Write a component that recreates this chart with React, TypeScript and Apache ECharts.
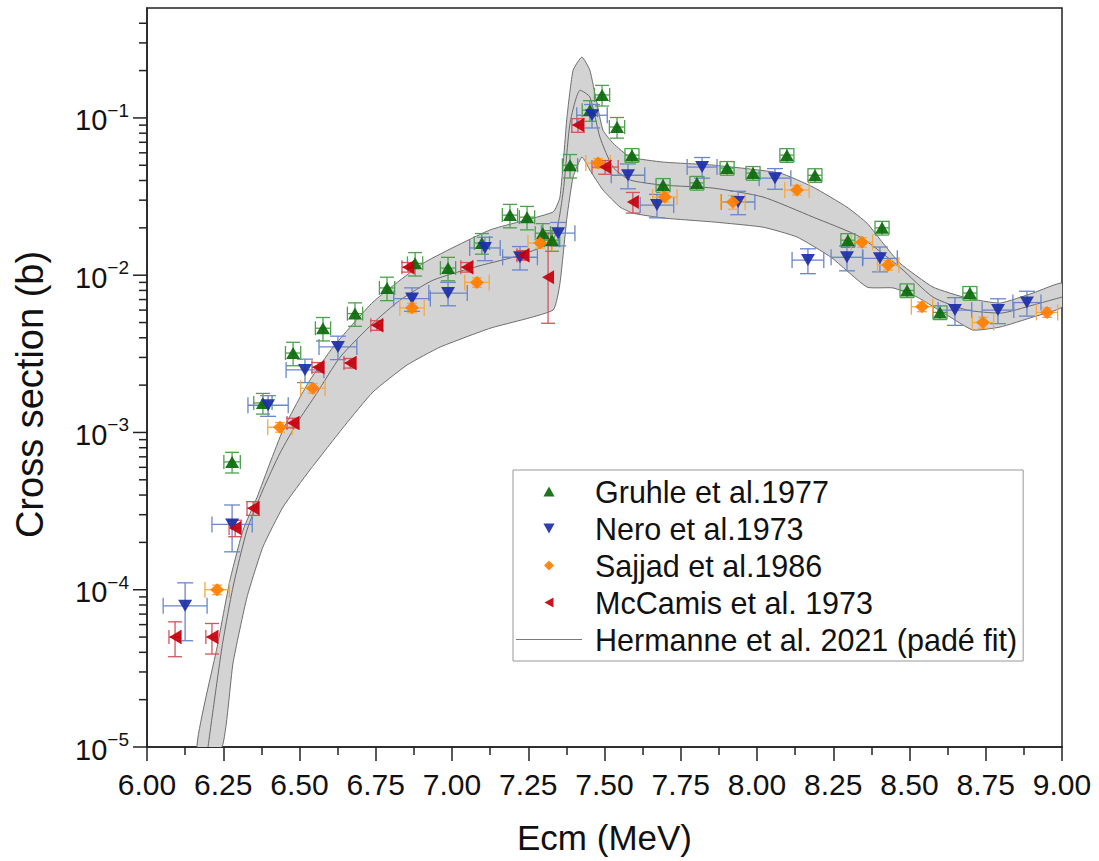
import React, { useEffect, useRef } from 'react';
import * as echarts from 'echarts';

const FONT = '"Liberation Sans", Arial, Helvetica, sans-serif';

// x-axis tick setup (MeV)
const X_MIN = 6.0;
const X_MAX = 9.0;
const X_STEP = 0.25;
// y-axis (barn, log)
const Y_MIN = 1e-5;
const Y_MAX = 0.5;
const yMajorTicks = [1e-5, 1e-4, 1e-3, 1e-2, 1e-1];
const yMinorMultipliers = [2, 3, 4, 5, 6, 7, 8, 9];

// Data points: [Ecm, sigma, dE, relErrDown, relErrUp]
const gruhle: number[][] = [
  [6.279, 6.5e-4, 0.027, 0.15, 0.15],
  [6.380, 1.54e-3, 0.03, 0.15, 0.15],
  [6.479, 3.2e-3, 0.025, 0.17, 0.17],
  [6.577, 4.6e-3, 0.025, 0.17, 0.17],
  [6.682, 5.7e-3, 0.025, 0.17, 0.17],
  [6.787, 8.3e-3, 0.025, 0.17, 0.17],
  [6.879, 1.19e-2, 0.025, 0.17, 0.17],
  [6.987, 1.11e-2, 0.025, 0.17, 0.17],
  [7.098, 1.6e-2, 0.025, 0.15, 0.15],
  [7.190, 2.41e-2, 0.025, 0.17, 0.17],
  [7.246, 2.34e-2, 0.025, 0.17, 0.17],
  [7.298, 1.85e-2, 0.025, 0.15, 0.15],
  [7.328, 1.67e-2, 0.025, 0.15, 0.15],
  [7.387, 5.0e-2, 0.025, 0.17, 0.17],
  [7.452, 0.112, 0.025, 0.15, 0.15],
  [7.492, 0.14, 0.025, 0.15, 0.15],
  [7.541, 0.0875, 0.025, 0.15, 0.15],
  [7.590, 0.058, 0.023, 0.1, 0.1],
  [7.692, 0.0374, 0.023, 0.1, 0.1],
  [7.803, 0.0386, 0.023, 0.1, 0.1],
  [7.902, 0.048, 0.023, 0.1, 0.1],
  [7.987, 0.0446, 0.023, 0.1, 0.1],
  [8.098, 0.058, 0.023, 0.1, 0.1],
  [8.190, 0.0432, 0.023, 0.1, 0.1],
  [8.298, 0.0167, 0.023, 0.1, 0.1],
  [8.410, 0.02, 0.023, 0.1, 0.1],
  [8.492, 8.0e-3, 0.023, 0.1, 0.1],
  [8.600, 5.8e-3, 0.023, 0.1, 0.1],
  [8.698, 7.7e-3, 0.023, 0.1, 0.1],
];

const nero: number[][] = [
  [6.125, 7.9e-5, 0.072, 0.4, 0.4],
  [6.279, 2.6e-4, 0.066, 0.33, 0.33],
  [6.397, 1.49e-3, 0.066, 0.15, 0.15],
  [6.518, 2.5e-3, 0.062, 0.17, 0.17],
  [6.626, 3.5e-3, 0.062, 0.17, 0.17],
  [6.869, 7.1e-3, 0.06, 0.17, 0.17],
  [6.987, 7.7e-3, 0.063, 0.17, 0.17],
  [7.108, 1.49e-2, 0.05, 0.17, 0.17],
  [7.223, 1.3e-2, 0.057, 0.17, 0.17],
  [7.348, 1.85e-2, 0.055, 0.17, 0.17],
  [7.459, 0.104, 0.05, 0.17, 0.17],
  [7.577, 0.0432, 0.055, 0.18, 0.18],
  [7.672, 0.0279, 0.055, 0.17, 0.17],
  [7.820, 0.0487, 0.049, 0.15, 0.15],
  [7.938, 0.0292, 0.055, 0.17, 0.17],
  [8.059, 0.0414, 0.052, 0.15, 0.15],
  [8.167, 0.01247, 0.052, 0.18, 0.18],
  [8.295, 0.013, 0.052, 0.18, 0.18],
  [8.403, 0.0128, 0.057, 0.18, 0.18],
  [8.649, 6.0e-3, 0.055, 0.2, 0.2],
  [8.790, 6.0e-3, 0.052, 0.18, 0.18],
  [8.885, 6.7e-3, 0.046, 0.18, 0.18],
];

const sajjad: number[][] = [
  [6.230, 1.0e-4, 0.04, 0.07, 0.07],
  [6.436, 1.08e-3, 0.04, 0.07, 0.07],
  [6.544, 1.91e-3, 0.04, 0.07, 0.07],
  [6.869, 6.2e-3, 0.04, 0.07, 0.07],
  [7.082, 9.0e-3, 0.04, 0.07, 0.07],
  [7.289, 1.6e-2, 0.04, 0.07, 0.07],
  [7.479, 0.0516, 0.04, 0.07, 0.07],
  [7.698, 0.0314, 0.04, 0.07, 0.07],
  [7.921, 0.0292, 0.04, 0.1, 0.1],
  [8.131, 0.0348, 0.04, 0.07, 0.07],
  [8.344, 0.0162, 0.035, 0.07, 0.07],
  [8.430, 0.0116, 0.035, 0.07, 0.07],
  [8.541, 6.3e-3, 0.035, 0.07, 0.07],
  [8.741, 5.0e-3, 0.035, 0.08, 0.08],
  [8.951, 5.8e-3, 0.035, 0.07, 0.07],
];

const mccamis: number[][] = [
  [6.092, 5.0e-5, 0.02, 0.25, 0.25],
  [6.213, 5.0e-5, 0.02, 0.22, 0.22],
  [6.289, 2.47e-4, 0.02, 0.12, 0.12],
  [6.348, 3.3e-4, 0.02, 0.1, 0.1],
  [6.479, 1.15e-3, 0.02, 0.07, 0.07],
  [6.561, 2.6e-3, 0.02, 0.07, 0.07],
  [6.666, 2.76e-3, 0.02, 0.07, 0.07],
  [6.754, 4.8e-3, 0.02, 0.07, 0.07],
  [6.856, 1.125e-2, 0.02, 0.07, 0.07],
  [7.049, 1.125e-2, 0.02, 0.07, 0.07],
  [7.233, 1.34e-2, 0.02, 0.07, 0.07],
  [7.315, 9.7e-3, 0.0, 0.49, 0.9],
  [7.413, 0.09, 0.02, 0.1, 0.1],
  [7.502, 0.0487, 0.043, 0.1, 0.1],
  [7.593, 0.0292, 0.0, 0.15, 0.15],
];

// Padé fit and its uncertainty band: [Ecm, sigma]
const fitCurve: number[][] = [
  [6.200, 1.0e-5], [6.246, 4.33e-5], [6.282, 1.04e-4], [6.328, 2.40e-4],
  [6.380, 4.31e-4], [6.436, 7.39e-4], [6.492, 1.15e-3], [6.557, 1.78e-3],
  [6.633, 3.01e-3], [6.741, 4.95e-3], [6.830, 6.95e-3], [6.938, 9.3e-3],
  [7.092, 1.15e-2], [7.223, 1.34e-2], [7.331, 1.67e-2], [7.364, 3.33e-2],
  [7.387, 0.0927], [7.420, 0.150], [7.452, 0.136], [7.485, 0.0755],
  [7.528, 0.0486], [7.584, 0.0403], [7.692, 0.0374], [7.856, 0.0358],
  [8.020, 0.0314], [8.184, 0.0234], [8.338, 0.0175], [8.469, 0.0112],
  [8.577, 7.26e-3], [8.689, 6.0e-3], [8.797, 5.74e-3], [8.905, 6.46e-3],
  [9.0, 7.26e-3],
];

const bandUpper: number[][] = [
  [6.164, 1.0e-5], [6.230, 4.33e-5], [6.272, 1.15e-4], [6.315, 2.40e-4],
  [6.361, 3.88e-4], [6.403, 6.38e-4], [6.446, 1.04e-3], [6.502, 1.68e-3],
  [6.534, 2.15e-3], [6.610, 3.49e-3], [6.741, 6.75e-3], [6.905, 1.19e-2],
  [7.125, 1.94e-2], [7.331, 2.52e-2], [7.354, 3.14e-2], [7.377, 0.101],
  [7.397, 0.201], [7.426, 0.244], [7.452, 0.201], [7.475, 0.124],
  [7.495, 0.0836], [7.528, 0.0691], [7.584, 0.0564], [7.692, 0.0524],
  [7.856, 0.0501], [8.075, 0.0446], [8.184, 0.0363], [8.295, 0.0271],
  [8.361, 0.0214], [8.413, 0.016], [8.469, 0.0119], [8.577, 8.4e-3],
  [8.689, 7.15e-3], [8.797, 6.65e-3], [8.905, 7.7e-3], [9.0, 8.9e-3],
];

const bandLower: number[][] = [
  [6.246, 1.0e-5], [6.282, 3.42e-5], [6.328, 8.99e-5], [6.380, 1.87e-4],
  [6.446, 3.36e-4], [6.534, 5.77e-4], [6.649, 1.11e-3], [6.741, 1.81e-3],
  [6.852, 2.68e-3], [6.961, 3.49e-3], [7.125, 4.6e-3], [7.331, 6.0e-3],
  [7.354, 8.9e-3], [7.377, 0.0234], [7.397, 0.042], [7.426, 0.0564],
  [7.452, 0.0466], [7.495, 0.0348], [7.551, 0.0271], [7.593, 0.0248],
  [7.692, 0.0231], [7.856, 0.0218], [8.020, 0.0202], [8.131, 0.0175],
  [8.243, 0.013], [8.361, 8.4e-3], [8.446, 8.3e-3], [8.525, 7.26e-3],
  [8.633, 5.42e-3], [8.708, 4.48e-3], [8.797, 4.68e-3], [8.905, 5.42e-3],
  [9.0, 6.26e-3],
];

const NAMES = {
  gruhle: 'Gruhle et al.1977',
  nero: 'Nero et al.1973',
  sajjad: 'Sajjad et al.1986',
  mccamis: 'McCamis et al. 1973',
  fit: 'Hermanne et al. 2021 (padé fit)',
};

const COLORS = {
  gruhle: '#0a6a0a', gruhleErr: '#4f9f4f',
  nero: '#1c2ea8', neroErr: '#6a86c8',
  sajjad: '#ff7f00', sajjadErr: '#f5a742',
  mccamis: '#c4000c', mccamisErr: '#d4545c',
  fit: '#7a7a7a',
};

function errRender(color: string, capV: number, capH: number) {
  return (_params: any, api: any) => {
    const e = api.value(0);
    const s = api.value(1);
    const de = api.value(2);
    const rd = api.value(3);
    const ru = api.value(4);
    const c = api.coord([e, s]);
    const top = api.coord([e, s * (1 + ru)]);
    const bot = api.coord([e, s * (1 - rd)]);
    const style = { stroke: color, lineWidth: 1.3, fill: null };
    const children: any[] = [
      { type: 'line', shape: { x1: c[0], y1: top[1], x2: c[0], y2: bot[1] }, style },
      { type: 'line', shape: { x1: c[0] - capV, y1: top[1], x2: c[0] + capV, y2: top[1] }, style },
      { type: 'line', shape: { x1: c[0] - capV, y1: bot[1], x2: c[0] + capV, y2: bot[1] }, style },
    ];
    if (de > 0) {
      const l = api.coord([e - de, s]);
      const r = api.coord([e + de, s]);
      children.push(
        { type: 'line', shape: { x1: l[0], y1: c[1], x2: r[0], y2: c[1] }, style },
        { type: 'line', shape: { x1: l[0], y1: c[1] - capH, x2: l[0], y2: c[1] + capH }, style },
        { type: 'line', shape: { x1: r[0], y1: c[1] - capH, x2: r[0], y2: c[1] + capH }, style },
      );
    }
    return { type: 'group', children };
  };
}

export default function App() {
  const ref = useRef<HTMLDivElement>(null);

  useEffect(() => {
    if (!ref.current) return;
    const chart = echarts.init(ref.current, undefined, { renderer: 'svg' });

    const yTickData: number[][] = [];
    for (const m of yMajorTicks) {
      yTickData.push([X_MIN, m, 1]);
      for (const k of yMinorMultipliers) {
        const v = m * k;
        if (v < Y_MAX * 0.999) yTickData.push([X_MIN, v, 0]);
      }
    }

    const errSeries = (name: string, data: number[][], color: string, capV: number, capH: number) => ({
      type: 'custom',
      name,
      data,
      z: 3,
      silent: true,
      clip: true,
      encode: { x: 0, y: 1 },
      renderItem: errRender(color, capV, capH),
    });

    const markerSeries = (name: string, data: number[][], color: string, symbol: string, rotate: number, size: number[]) => ({
      type: 'scatter',
      name,
      data: data.map((d) => [d[0], d[1]]),
      symbol,
      symbolRotate: rotate,
      symbolSize: size,
      z: 4,
      itemStyle: { color, opacity: 0.92 },
    });

    const option: any = {
      animation: false,
      backgroundColor: '#ffffff',
      grid: {
        left: 147, right: 37, top: 8, bottom: 114,
        show: true, borderColor: '#222', borderWidth: 1.5, backgroundColor: 'transparent',
      },
      xAxis: {
        type: 'value',
        min: X_MIN, max: X_MAX, interval: X_STEP,
        name: 'Ecm (MeV)',
        nameLocation: 'middle',
        nameGap: 73,
        nameTextStyle: { fontFamily: FONT, fontSize: 35, color: '#111' },
        axisLine: { show: true, lineStyle: { color: '#222', width: 1.5 } },
        axisTick: { show: true, inside: false, length: 14, lineStyle: { color: '#222', width: 1.5 } },
        minorTick: { show: true, splitNumber: 2, length: 8, lineStyle: { color: '#222', width: 1.5 } },
        splitLine: { show: false },
        axisLabel: {
          fontFamily: FONT, fontSize: 30, color: '#111', margin: 22,
          formatter: (v: number) => v.toFixed(2),
        },
      },
      yAxis: {
        type: 'log', logBase: 10,
        min: Y_MIN, max: Y_MAX,
        name: 'Cross section (b)',
        nameLocation: 'middle',
        nameGap: 98,
        nameTextStyle: { fontFamily: FONT, fontSize: 38, color: '#111', padding: [0, 34, 0, 0] },
        axisLine: { show: true, lineStyle: { color: '#222', width: 1.5 } },
        axisTick: { show: false },
        splitLine: { show: false },
        axisLabel: {
          margin: 18,
          showMaxLabel: false,
          formatter: (v: number) => {
            const lg = Math.log10(v);
            const e = Math.round(lg);
            if (Math.abs(lg - e) > 1e-6) return '';
            return `{b|10}{s|−${-e}}`;
          },
          rich: {
            b: { fontFamily: FONT, fontSize: 29, color: '#111', lineHeight: 34, verticalAlign: 'bottom' },
            s: { fontFamily: FONT, fontSize: 19, color: '#111', lineHeight: 20, verticalAlign: 'top' },
          },
        },
      },
      legend: {
        orient: 'vertical',
        left: 513, top: 470,
        padding: [6, 6, 6, 3],
        itemGap: 6,
        itemWidth: 66, itemHeight: 10,
        backgroundColor: '#fff',
        borderColor: '#999', borderWidth: 1, borderRadius: 0,
        textStyle: { fontFamily: FONT, fontSize: 30.5, color: '#111', lineHeight: 31, padding: [0, 0, 0, 8] },
        data: [
          { name: NAMES.gruhle, icon: 'path://M5 0 L10 9 L0 9 Z' },
          { name: NAMES.nero, icon: 'path://M0 0 L10 0 L5 9 Z' },
          { name: NAMES.sajjad, icon: 'path://M5 0 L10 5 L5 10 L0 5 Z' },
          { name: NAMES.mccamis, icon: 'path://M0 5 L9 0 L9 10 Z' },
          { name: NAMES.fit, icon: 'path://M0 0 L64 0 L64 1 L0 1 Z' },
        ],
      },
      series: [
        {
          type: 'custom',
          name: 'band',
          data: [[X_MIN, Y_MIN]],
          z: 1,
          silent: true,
          clip: true,
          encode: { x: 0, y: 1 },
          renderItem: (_p: any, api: any) => {
            const pts: number[][] = [];
            for (const d of bandUpper) pts.push(api.coord([d[0], d[1]]));
            for (let i = bandLower.length - 1; i >= 0; i--) pts.push(api.coord([bandLower[i][0], bandLower[i][1]]));
            return {
              type: 'polygon',
              shape: { points: pts, smooth: 0.15 },
              style: { fill: '#d3d3d3', stroke: '#6e6e6e', lineWidth: 1 },
            };
          },
        },
        {
          type: 'line',
          name: NAMES.fit,
          data: fitCurve,
          showSymbol: false,
          symbol: 'none',
          smooth: 0.2,
          z: 2,
          silent: true,
          itemStyle: { color: COLORS.fit },
          lineStyle: { color: '#6a6a6a', width: 1 },
        },
        errSeries('gruhle-err', gruhle, COLORS.gruhleErr, 7, 7),
        errSeries('nero-err', nero, COLORS.neroErr, 8, 8),
        errSeries('sajjad-err', sajjad, COLORS.sajjadErr, 5, 8),
        errSeries('mccamis-err', mccamis, COLORS.mccamisErr, 7, 7),
        markerSeries(NAMES.gruhle, gruhle, COLORS.gruhle, 'triangle', 0, [14, 12]),
        markerSeries(NAMES.nero, nero, COLORS.nero, 'triangle', 180, [14, 12]),
        markerSeries(NAMES.sajjad, sajjad, COLORS.sajjad, 'diamond', 0, [14, 13]),
        markerSeries(NAMES.mccamis, mccamis, COLORS.mccamis, 'triangle', 90, [14, 12]),
        {
          type: 'custom',
          name: 'y-ticks',
          data: yTickData,
          z: 5,
          silent: true,
          clip: false,
          encode: { x: 0, y: 1 },
          renderItem: (_p: any, api: any) => {
            const p = api.coord([api.value(0), api.value(1)]);
            const len = api.value(2) === 1 ? 14 : 8;
            return {
              type: 'line',
              shape: { x1: p[0] - len, y1: p[1], x2: p[0], y2: p[1] },
              style: { stroke: '#222', lineWidth: 1.5 },
            };
          },
        },
      ],
    };

    chart.setOption(option);
    return () => chart.dispose();
  }, []);

  return (
    <div
      ref={ref}
      style={{ position: 'absolute', left: 0, top: 0, width: 1099, height: 861, background: '#fff' }}
    />
  );
}
